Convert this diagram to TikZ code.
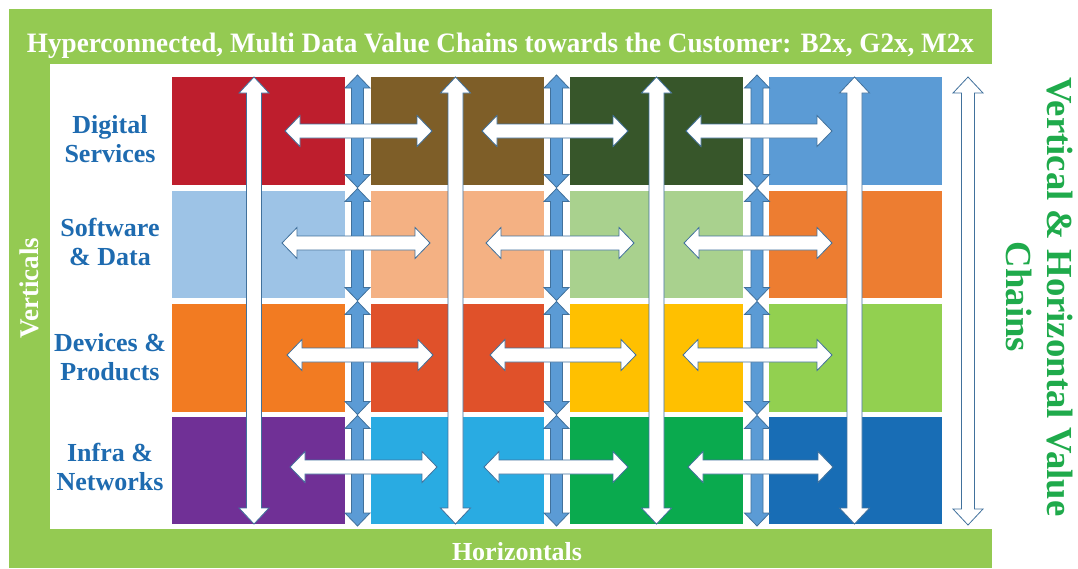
\documentclass[tikz,border=0pt]{standalone}
\usepackage{fontspec}
\usepackage{graphicx}
\setmainfont{Liberation Serif}
\definecolor{framegreen}{HTML}{94CA52}
\definecolor{labelblue}{HTML}{1E6BB0}
\definecolor{sidegreen}{HTML}{1FAA4B}
\definecolor{arrowline}{HTML}{41719C}
\definecolor{arrowblue}{HTML}{5B9BD5}
\definecolor{cA1}{HTML}{BE1E2D}
\definecolor{cA2}{HTML}{7E5E28}
\definecolor{cA3}{HTML}{37562A}
\definecolor{cA4}{HTML}{5B9BD5}
\definecolor{cB1}{HTML}{9DC3E6}
\definecolor{cB2}{HTML}{F4B183}
\definecolor{cB3}{HTML}{A9D18E}
\definecolor{cB4}{HTML}{ED7D31}
\definecolor{cC1}{HTML}{F27B22}
\definecolor{cC2}{HTML}{E0512A}
\definecolor{cC3}{HTML}{FFC000}
\definecolor{cC4}{HTML}{92D050}
\definecolor{cD1}{HTML}{703096}
\definecolor{cD2}{HTML}{29ABE2}
\definecolor{cD3}{HTML}{0AAA4E}
\definecolor{cD4}{HTML}{186DB5}
% horizontal double arrow: style, x1, x2, y, shaft half, head half, head length
\newcommand\HArr[7]{\filldraw[#1] (#2,#4) -- ({#2+#7},{#4-#6}) -- ({#2+#7},{#4-#5}) -- ({#3-#7},{#4-#5}) -- ({#3-#7},{#4-#6}) -- (#3,#4) -- ({#3-#7},{#4+#6}) -- ({#3-#7},{#4+#5}) -- ({#2+#7},{#4+#5}) -- ({#2+#7},{#4+#6}) -- cycle;}
% vertical double arrow: style, x, y1, y2, shaft half, head half, head length
\newcommand\VArr[7]{\filldraw[#1] (#2,#3) -- ({#2+#6},{#3+#7}) -- ({#2+#5},{#3+#7}) -- ({#2+#5},{#4-#7}) -- ({#2+#6},{#4-#7}) -- (#2,#4) -- ({#2-#6},{#4-#7}) -- ({#2-#5},{#4-#7}) -- ({#2-#5},{#3+#7}) -- ({#2-#6},{#3+#7}) -- cycle;}
\begin{document}
\begin{tikzpicture}[x=1pt,y=-1pt,
  cell/.style={draw=none, inner sep=0pt, outer sep=0pt, anchor=north west, minimum width=172.5pt},
  warrow/.style={fill=white, draw=arrowline, line width=0.8pt, line join=miter},
  barrow/.style={fill=arrowblue, draw=arrowline, line width=0.8pt, line join=miter},
  rowlabel/.style={text=labelblue, font=\fontsize{26}{29}\selectfont\bfseries, align=center, inner sep=0pt, anchor=base},
  bandtext/.style={text=white, inner sep=0pt},
]
\useasboundingbox (0,0) rectangle (1078,568);
% frame
\fill[framegreen] (9,9) rectangle (992,568);
\fill[white] (50,64) rectangle (992,529);
% cells
\foreach \r/\yt/\h in {A/77/108, B/191/107, C/304/108, D/417/107}{
  \foreach \c/\xl in {1/172, 2/371, 3/570, 4/769}{
    \node[cell, fill=c\r\c, minimum height=\h pt] (cell\r\c) at (\xl,\yt) {};
  }
}
% blue double arrows between columns
\foreach \x in {357.5, 556.5, 757}{
  \foreach \ya/\yb in {75/187.5, 188.5/300.5, 301.5/414.5, 415.5/526}{
    \VArr{barrow}{\x}{\ya}{\yb}{6}{12.5}{13}
  }
}
% horizontal white double arrows
\foreach \y/\a/\b/\c/\d/\e/\f in {131/285/432/482/628/686/832, 243/282/430/486/634/684/832, 355/287/433/490/636/683/832, 467/290/437/484/628/688/833}{
  \HArr{warrow}{\a}{\b}{\y}{7}{15.5}{15}
  \HArr{warrow}{\c}{\d}{\y}{7}{15.5}{15}
  \HArr{warrow}{\e}{\f}{\y}{7}{15.5}{15}
}
% big vertical white double arrows
\foreach \x in {254, 455.5, 656.5, 854.5}{
  \VArr{warrow}{\x}{77}{524}{7.5}{15}{16}
}
% far right arrow
\VArr{warrow}{968}{77}{525}{6.5}{15}{16}
% texts
\node[bandtext, anchor=base] (title) at (500.5,52) {\resizebox{947pt}{19.5pt}{\fontsize{28}{30}\selectfont\bfseries Hyperconnected, Multi Data Value Chains towards the Customer: B2x, G2x, M2x}};
\node[bandtext, anchor=base west, rotate=90, font=\fontsize{27}{30}\selectfont\bfseries] (vert) at (38,339) {Verticals};
\node[bandtext, anchor=base, font=\fontsize{26}{30}\selectfont\bfseries] (horiz) at (517,560) {Horizontals};
\node[rowlabel] (lab1) at (110,162) {Digital\\Services};
\node[rowlabel] (lab2) at (110,265) {Software\\\& Data};
\node[rowlabel] (lab3) at (110,380) {Devices \&\\Products};
\node[rowlabel] (lab4) at (110,490) {Infra \&\\Networks};
\node[text=sidegreen, font=\fontsize{36.7}{41}\selectfont\bfseries, align=center, inner sep=0pt, anchor=base, rotate=-90] (side) at (1006,297) {Vertical \& Horizontal Value\\Chains};
\end{tikzpicture}
\end{document}
